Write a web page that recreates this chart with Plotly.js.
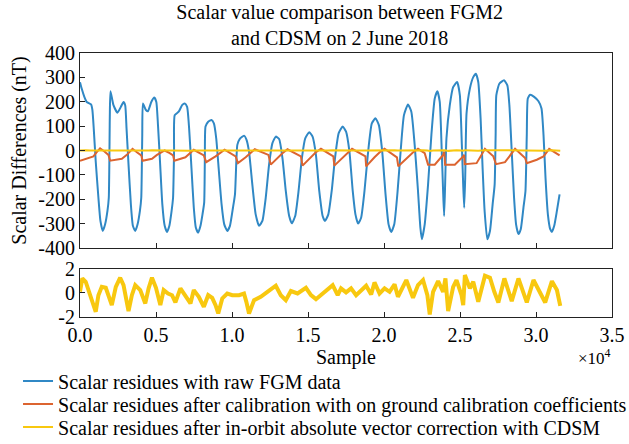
<!DOCTYPE html>
<html>
<head>
<meta charset="utf-8">
<script src="https://cdn.plot.ly/plotly-3.0.1.min.js"></script>
<style>html,body{margin:0;padding:0;background:#fff;}#chart{width:629px;height:444px;}</style>
</head>
<body>
<div id="chart"></div>
<script>
// ---- data ----
var seriesNames = [
  'Scalar residues with raw FGM data',
  'Scalar residues after calibration with on ground calibration coefficients',
  'Scalar residues after in-orbit absolute vector correction with CDSM'
];
var rawX = [0,110,286,441,727,815,903,1035,1211,1344,1498,1652,1806,1894,1960,2004,2202,2466,2687,2863,2973,3061,3193,3347,3479,3634,3788,3942,4030,4096,4140,4338,4470,4690,4889,5021,5131,5263,5417,5572,5726,5880,6012,6122,6188,6232,6496,6716,6893,7047,7179,7333,7487,7619,7773,7927,8059,8170,8214,8258,8434,8654,8808,8962,9139,9315,9491,9689,9865,10063,10196,10284,10350,10504,10790,10950,11118,11338,11558,11779,11999,12219,12439,12660,12880,13100,13320,13540,13761,13937,14157,14377,14598,14818,15082,15302,15522,15742,15963,16117,16337,16557,16777,17020,17284,17504,17724,17944,18121,18297,18495,18715,18935,19199,19441,19662,19882,20102,20300,20477,20675,20895,21093,21313,21578,21798,22018,22238,22392,22490,22678,22898,23118,23338,23514,23668,23800,23889,23955,24021,24109,24329,24549,24813,24990,25122,25210,25276,25342,25430,25650,25871,26047,26201,26355,26487,26619,26795,26971,27147,27279,27345,27390,27588,27896,28116,28249,28403,28557,28689,28843,28997,29173,29306,29394,29460,29614,29878,30164,30362,30494,30627,30781,30935,31045,31199,31375,31551];
var rawY = [280,254,220,199,189,166,91,-45,-194,-289,-330,-303,-248,-194,132,243,186,155,179,199,186,91,-58,-221,-309,-330,-303,-248,-194,64,193,166,161,199,217,199,104,-45,-221,-309,-334,-309,-255,-194,-4,145,159,186,193,179,91,-72,-235,-316,-337,-309,-262,-214,-31,98,118,125,111,50,-86,-221,-303,-330,-309,-235,-180,-45,23,47,61,45,-4,-140,-262,-309,-289,-194,-58,30,57,47,-31,-167,-269,-299,-269,-167,-31,50,75,57,-18,-167,-269,-289,-262,-167,-31,71,98,77,-4,-167,-262,-300,-276,-167,-18,111,132,104,-4,-180,-303,-334,-303,-167,-4,145,189,159,23,-167,-316,-364,-303,-140,64,213,243,199,-4,-167,-269,-140,50,186,260,281,227,23,-140,-235,-113,152,254,301,315,281,132,-72,-248,-364,-330,-221,-140,64,227,274,288,267,186,-4,-194,-303,-343,-323,-235,-167,64,213,229,220,202,172,64,-113,-262,-323,-334,-309,-248,-180];

var groundX = [0,441,881,1101,1322,1608,1872,1982,2423,2753,3083,3457,3744,4030,4118,4735,5065,5571,5902,6122,6210,6937,7487,7861,8147,8302,8918,9513,9909,10240,10394,10900,11500,12395,12550,12990,13300,13650,14531,14641,15192,15500,15853,16667,16733,17284,17600,17900,18781,18825,19376,19700,20036,20851,20939,21577,21900,22238,22678,22898,23338,23889,23960,24020,24659,25210,25270,25310,26091,26400,26641,27192,27368,27962,28300,28623,29284,29394,30054,30494,30868,31551];
var groundY = [-42,-34,-24,-7,9,-4,-18,-42,-38,-34,-18,7,-7,-20,-42,-34,-18,0,-11,-20,-42,-28,3,-11,-20,-48,-24,3,-11,-24,-52,-28,5,-18,-58,-31,-12,5,-24,-62,-28,-8,7,-24,-62,-28,-8,7,-24,-65,-28,-8,7,-28,-65,-28,-8,7,-11,-58,-58,-18,-4,-58,-58,-24,-18,-56,-52,-20,7,-24,-56,-48,-18,7,-31,-52,-38,-24,7,-20];

var cdsmX = [0,154,375,661,881,1035,1211,1432,1696,1916,2092,2356,2643,2863,3083,3193,3413,3634,3964,4294,4514,4735,4999,5285,5505,5792,6056,6276,6606,6937,7267,7487,7817,8147,8434,8698,8918,9095,9359,9689,10019,10460,10790,10944,11120,11451,11891,12331,12881,13210,13541,13873,14313,14864,15194,15524,15852,16292,16623,16953,17173,17504,17834,18164,18494,18825,19155,19375,19706,20036,20366,20696,20917,21467,21908,22238,22568,22854,23009,23229,23559,23889,24043,24220,24550,24770,25100,25211,25321,25651,25871,26201,26642,26972,27258,27523,27919,28403,28844,29174,29394,29835,30275,30605,31046,31376,31596];
var cdsmY = [0.1,1.18,0.91,-0.2,-1.02,-1.57,-0.2,0.49,0.41,-0.33,-1.02,0.49,1.24,0.63,-0.88,-1.52,-0.2,0.63,0.22,-0.88,0.36,1.24,0.41,-1.02,0.22,-0.06,-0.2,-0.8,0.36,-0.2,-0.88,0.22,-0.33,-1.16,-0.2,-0.42,-1.02,-1.71,-0.47,-0.06,-0.2,-0.2,-0.06,-0.75,-1.71,-0.61,-0.33,0.08,0.58,-0.2,-0.61,0.14,-0.06,0.41,-0.2,-0.53,-0.2,0.22,0.63,-0.2,0.36,0.03,0.36,-0.2,0.14,0.58,-0.14,0.85,-0.06,0.36,0.08,0.69,-0.33,1.05,-0.42,0.63,1.05,-0.2,-1.79,0.08,0.96,0.08,1.18,-1.52,0.49,1.05,-0.2,-1.02,1.46,0.36,0.91,-0.75,1.40,1.24,0.08,-0.8,1.18,-0.69,1.18,0.03,-0.8,1.05,-0.06,-0.8,0.96,0.22,-1.08];

var xTickVals = [0,5000,10000,15000,20000,25000,30000,35000];
var xTickText = ['0.0','0.5','1.0','1.5','2.0','2.5','3.0','3.5'];
var topTickVals = [-400,-300,-200,-100,0,100,200,300,400];
var topTickText = ['-400','-300','-200','-100','0','100','200','300','400'];
var botTickVals = [-2,0,2];
var botTickText = ['-2','0','2'];

// ---- styling ----
var FONT = 'Liberation Serif, Times New Roman, serif';
var BLUE = '#3088c5', ORANGE = '#dc6430', YELLOW = '#f8c80f';

var traces = [
  {x: rawX, y: rawY, xaxis: 'x2', yaxis: 'y2', mode: 'lines', name: seriesNames[0], legend: 'legend',
   line: {color: BLUE, width: 2, shape: 'spline', smoothing: 0.5}},
  {x: groundX, y: groundY, xaxis: 'x2', yaxis: 'y2', mode: 'lines', name: seriesNames[1], legend: 'legend2',
   line: {color: ORANGE, width: 2}},
  {x: cdsmX, y: cdsmY, xaxis: 'x2', yaxis: 'y2', mode: 'lines', name: seriesNames[2], legend: 'legend3',
   line: {color: YELLOW, width: 2}},
  {x: cdsmX, y: cdsmY, xaxis: 'x', yaxis: 'y', mode: 'lines', showlegend: false,
   line: {color: YELLOW, width: 4}}
];

var axCommon = {
  showline: true, mirror: true, linecolor: '#222', linewidth: 1,
  ticks: 'inside', ticklen: 5, tickcolor: '#222', tickwidth: 1,
  showgrid: false, zeroline: false,
  tickfont: {family: FONT, size: 20, color: '#000'}
};
function ax(extra) { return Object.assign({}, axCommon, extra); }

function leg(y) {
  return {x: -0.1165, xanchor: 'left', y: y, yanchor: 'middle', xref: 'paper', yref: 'paper',
          font: {family: FONT, size: 20, color: '#000'}, bgcolor: 'rgba(0,0,0,0)', borderwidth: 0,
          itemwidth: 30, tracegroupgap: 0};
}

var layout = {
  width: 629, height: 444,
  margin: {l: 80, r: 17, t: 53, b: 127, autoexpand: false},
  paper_bgcolor: '#fff', plot_bgcolor: '#fff',
  font: {family: FONT, size: 20, color: '#000'},
  title: {text: 'Scalar value comparison between FGM2<br>and CDSM on 2 June 2018',
          font: {family: FONT, size: 20, color: '#000'},
          x: 0.54, xanchor: 'center', y: 0.957, yanchor: 'middle'},
  xaxis: ax({anchor: 'y', range: [0, 35000], tickmode: 'array', tickvals: xTickVals, ticktext: xTickText,
             title: {text: 'Sample', font: {family: FONT, size: 20}, standoff: 2}}),
  yaxis: ax({anchor: 'x', domain: [0, 0.1837], range: [-2, 2], tickmode: 'array', tickvals: botTickVals, ticktext: botTickText}),
  xaxis2: ax({anchor: 'y2', range: [0, 35000], tickmode: 'array', tickvals: xTickVals, showticklabels: false}),
  yaxis2: ax({anchor: 'x2', domain: [0.2614, 1], range: [-400, 400], tickmode: 'array', tickvals: topTickVals, ticktext: topTickText,
              title: {text: 'Scalar Differences (nT)', font: {family: FONT, size: 20}, standoff: 6}}),
  legend: leg(-0.2424),
  legend2: leg(-0.3295),
  legend3: leg(-0.4167),
  annotations: [{text: '×10<sup>4</sup>', xref: 'paper', yref: 'paper', x: 0.968, y: -0.153,
                 xanchor: 'center', yanchor: 'middle', showarrow: false,
                 font: {family: FONT, size: 17, color: '#000'}}]
};

Plotly.newPlot('chart', traces, layout, {staticPlot: true, displayModeBar: false});
</script>
</body>
</html>
